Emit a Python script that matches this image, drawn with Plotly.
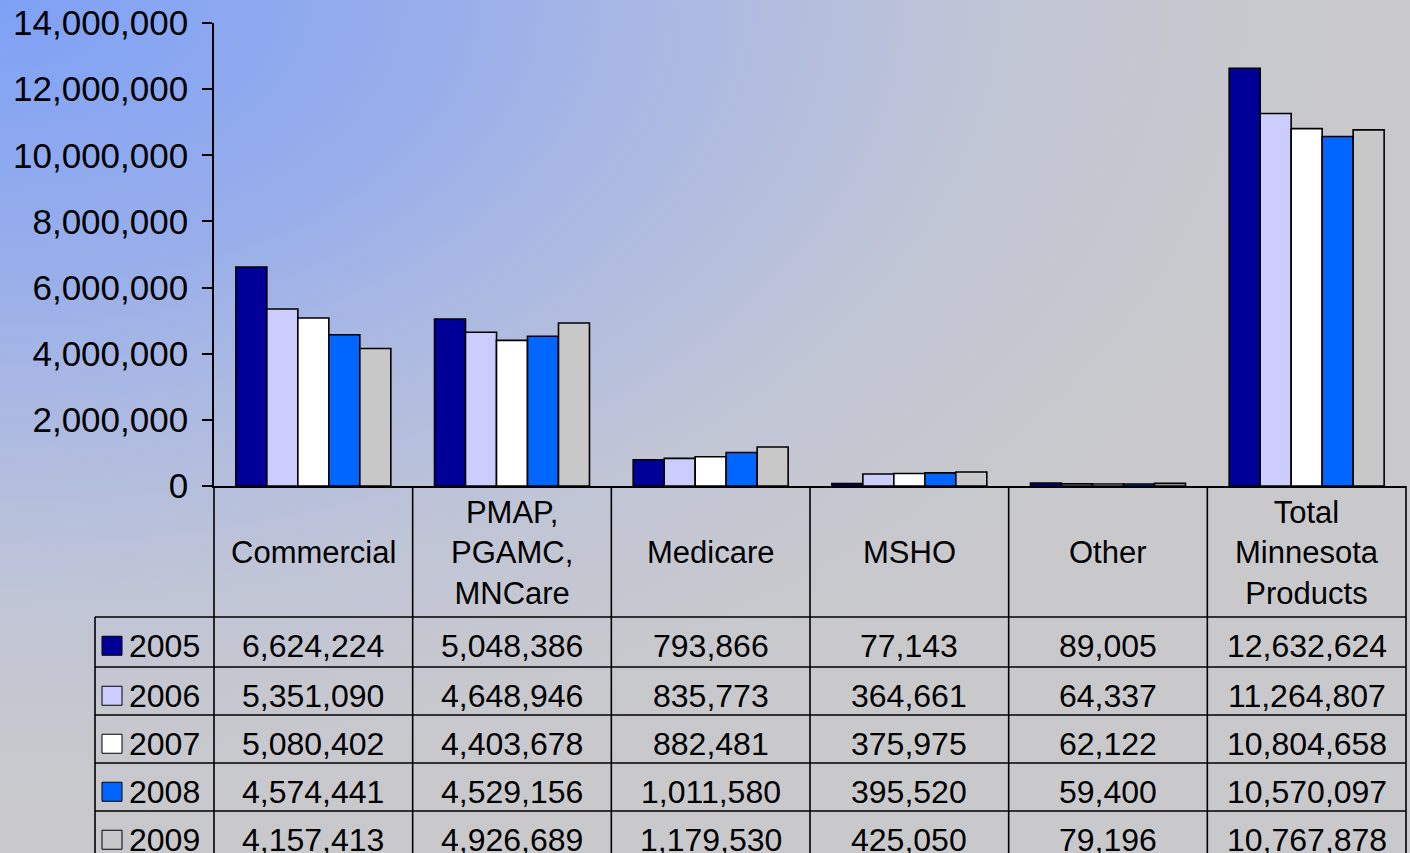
import base64
import plotly.graph_objects as go

# Enrollment by product line, 2005-2009
categories = ["Commercial", "PMAP, PGAMC, MNCare", "Medicare", "MSHO", "Other",
              "Total Minnesota Products"]
header_labels = ["Commercial", "PMAP,<br>PGAMC,<br>MNCare", "Medicare", "MSHO", "Other",
                 "Total<br>Minnesota<br>Products"]
years = ["2005", "2006", "2007", "2008", "2009"]

v2005 = [6624224, 5048386, 793866, 77143, 89005, 12632624]
v2006 = [5351090, 4648946, 835773, 364661, 64337, 11264807]
v2007 = [5080402, 4403678, 882481, 375975, 62122, 10804658]
v2008 = [4574441, 4529156, 1011580, 395520, 59400, 10570097]
v2009 = [4157413, 4926689, 1179530, 425050, 79196, 10767878]
series = [v2005, v2006, v2007, v2008, v2009]

colors = ["#000099", "#CCCCFF", "#FFFFFF", "#0066FF", "#C8C8C8"]

y_ticks = [0, 2000000, 4000000, 6000000, 8000000, 10000000, 12000000, 14000000]

# Figure geometry (pixels)
FIG_W, FIG_H = 1410, 853
M_L, M_R, M_T, M_B = 214, 4, 23, 367
PLOT_W = FIG_W - M_L - M_R
PLOT_H = FIG_H - M_T - M_B
Y0 = M_T + PLOT_H          # pixel row of the value axis zero line

FONT = "Liberation Sans, Arial, sans-serif"


def px_x(px):
    return (px - M_L) / PLOT_W


def px_y(py):
    return (Y0 - py) / PLOT_H


# Background: elliptical gradient from blue in the top-left corner to grey
svg = f"""<svg xmlns='http://www.w3.org/2000/svg' width='{FIG_W}' height='{FIG_H}'
 viewBox='0 0 {FIG_W} {FIG_H}' preserveAspectRatio='none'>
<defs><radialGradient id='g' cx='0' cy='0' r='1' fx='0' fy='0'>
<stop offset='0' stop-color='#7EA1F6'/>
<stop offset='0.33' stop-color='#9AAFEA'/>
<stop offset='0.45' stop-color='#A8B7E4'/>
<stop offset='0.70' stop-color='#C0C5D6'/>
<stop offset='0.86' stop-color='#C7C8CE'/>
<stop offset='1' stop-color='#C9C9CC'/>
</radialGradient></defs>
<rect width='{FIG_W}' height='{FIG_H}' fill='url(#g)'/></svg>"""
bg_uri = "data:image/svg+xml;base64," + base64.b64encode(svg.encode()).decode()

fig = go.Figure()
for name, vals, col in zip(years, series, colors):
    fig.add_trace(go.Bar(
        x=categories, y=vals, name=name,
        marker=dict(color=col, line=dict(color="#000000", width=1.6)),
        showlegend=False,
    ))

shapes = []
annotations = []
line_style = dict(color="#000000", width=1.6)

# Data table geometry
TABLE_LEFT = 95
TABLE_RIGHT = FIG_W - M_R
HEADER_BOTTOM = 617
row_tops = [617, 667, 715, 763, 811]
ROW_H = 48.5
col_edges = [M_L + PLOT_W * i / len(categories) for i in range(len(categories) + 1)]

# horizontal rules
for top in row_tops:
    shapes.append(dict(type="line", xref="paper", yref="paper",
                       x0=px_x(TABLE_LEFT), x1=px_x(TABLE_RIGHT),
                       y0=px_y(top), y1=px_y(top), line=line_style))
# vertical rules
shapes.append(dict(type="line", xref="paper", yref="paper",
                   x0=px_x(TABLE_LEFT), x1=px_x(TABLE_LEFT),
                   y0=px_y(HEADER_BOTTOM), y1=px_y(FIG_H + 5), line=line_style))
for e in col_edges:
    shapes.append(dict(type="line", xref="paper", yref="paper",
                       x0=px_x(e), x1=px_x(e),
                       y0=px_y(Y0), y1=px_y(FIG_H + 5), line=line_style))

# header row: category names
for cat, lab in zip(categories, header_labels):
    annotations.append(dict(x=cat, xref="x", y=px_y((Y0 + HEADER_BOTTOM) / 2 + 1),
                            yref="paper", text=lab, showarrow=False,
                            xanchor="center", yanchor="middle",
                            font=dict(family=FONT, size=31, color="#000000")))

# body rows: legend key, year and values
for r, (name, vals, col) in enumerate(zip(years, series, colors)):
    cy = row_tops[r] + ROW_H / 2 + 5
    shapes.append(dict(type="rect", xref="paper", yref="paper",
                       x0=px_x(102), x1=px_x(122), y0=px_y(cy - 10), y1=px_y(cy + 9),
                       fillcolor=col, line=dict(color="#000000", width=1)))
    annotations.append(dict(x=px_x(127), xref="paper", y=px_y(cy), yref="paper",
                            text=name, showarrow=False, xanchor="left", yanchor="middle",
                            font=dict(family=FONT, size=32, color="#000000")))
    for cat, v in zip(categories, vals):
        annotations.append(dict(x=cat, xref="x", y=px_y(cy), yref="paper",
                                text=f"{v:,}", showarrow=False,
                                xanchor="center", yanchor="middle",
                                font=dict(family=FONT, size=32, color="#000000")))

fig.update_layout(
    width=FIG_W, height=FIG_H,
    margin=dict(l=M_L, r=M_R, t=M_T, b=M_B, pad=0),
    paper_bgcolor="rgba(0,0,0,0)",
    plot_bgcolor="rgba(0,0,0,0)",
    barmode="group", bargap=0.22, bargroupgap=0,
    images=[dict(source=bg_uri, xref="paper", yref="paper",
                 x=px_x(0), y=px_y(0), sizex=FIG_W / PLOT_W, sizey=FIG_H / PLOT_H,
                 xanchor="left", yanchor="top", sizing="stretch", layer="below")],
    shapes=shapes,
    annotations=annotations,
    xaxis=dict(showticklabels=False, ticks="", showgrid=False, zeroline=False,
               showline=True, linecolor="#000000", linewidth=1.6, fixedrange=True),
    yaxis=dict(range=[0, 14000000], tickvals=y_ticks, tickformat=",d",
               ticks="outside", ticklen=10, tickwidth=1.6, tickcolor="#000000",
               ticklabelstandoff=7,
               showline=True, linecolor="#000000", linewidth=1.6,
               showgrid=False, zeroline=False,
               tickfont=dict(family=FONT, size=35, color="#000000")),
)

fig.write_html("out.html")
